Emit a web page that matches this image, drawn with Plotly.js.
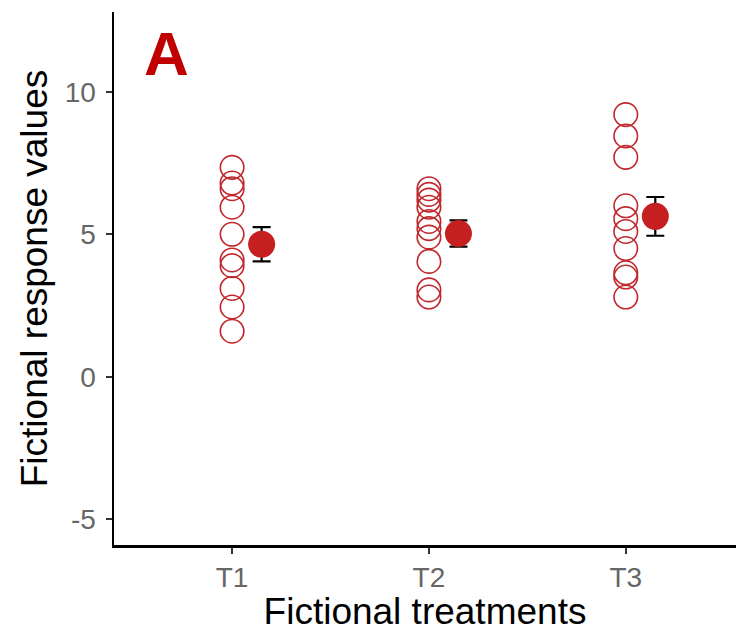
<!DOCTYPE html>
<html>
<head>
<meta charset="utf-8">
<script src="https://cdn.plot.ly/plotly-3.0.1.min.js"></script>
<style>html,body{margin:0;padding:0;background:#fff}#chart{width:736px;height:632px}</style>
</head>
<body>
<div id="chart"></div>
<script>
// Data
const categories = ["T1", "T2", "T3"];
const t1Values = [7.35, 6.8, 6.6, 5.95, 5.0, 4.1, 3.9, 3.1, 2.45, 1.6];
const t2Values = [6.6, 6.4, 6.2, 5.95, 5.45, 5.2, 4.9, 4.05, 3.05, 2.8];
const t3Values = [9.2, 8.45, 7.7, 6.0, 5.55, 5.1, 4.5, 3.65, 3.5, 2.8];
const groupMeans = [4.65, 5.03, 5.63];
const groupErrors = [0.6, 0.46, 0.68];
const yTickVals = [-5, 0, 5, 10];
const yTickText = ["-5", "0", "5", "10"];

const seriesList = [t1Values, t2Values, t3Values];
const pos = [1, 2, 3];
const meanOffset = 0.15;

const traces = [];
seriesList.forEach((vals, i) => {
  traces.push({
    type: "scatter", mode: "markers",
    x: vals.map(() => pos[i]), y: vals,
    marker: {symbol: "circle-open", size: 23.5, color: "#c0282d", line: {width: 1.6, color: "#c0282d"}},
    hoverinfo: "y", showlegend: false
  });
});
traces.push({
  type: "scatter", mode: "markers",
  x: pos.map(p => p + meanOffset), y: groupMeans,
  error_y: {type: "data", array: groupErrors, visible: true, color: "#000", thickness: 2.2, width: 9},
  marker: {symbol: "circle", size: 27, color: "#c51f1f"},
  showlegend: false
});

const layout = {
  width: 736, height: 632,
  margin: {l: 114, r: 0, t: 12, b: 87},
  paper_bgcolor: "#fff", plot_bgcolor: "#fff",
  font: {family: "Liberation Sans, Arial, sans-serif"},
  xaxis: {
    range: [0.4, 3.56], tickvals: pos, ticktext: categories,
    showgrid: false, zeroline: false,
    showline: true, linecolor: "#000", linewidth: 2.5,
    ticks: "outside", ticklen: 6, tickwidth: 2, tickcolor: "#333",
    tickfont: {size: 28, color: "#666"},
    automargin: false,
    title: {text: "Fictional treatments", font: {size: 37, color: "#000"}, standoff: 8}
  },
  yaxis: {
    range: [-5.9, 12.8], tickvals: yTickVals, ticktext: yTickText,
    showgrid: false, zeroline: false,
    showline: true, linecolor: "#000", linewidth: 2.5,
    ticks: "outside", ticklen: 6, tickwidth: 2, tickcolor: "#333",
    ticklabelstandoff: 4,
    tickfont: {size: 28, color: "#666"},
    automargin: false,
    title: {text: "Fictional response values", font: {size: 37, color: "#000"}, standoff: 6}
  },
  annotations: [{
    text: "<b>A</b>", xref: "paper", yref: "paper", x: 0.084, y: 0.923,
    xanchor: "center", yanchor: "middle", showarrow: false,
    font: {size: 62, color: "#c00000", family: "Liberation Sans, Arial, sans-serif"}
  }]
};

Plotly.newPlot("chart", traces, layout, {displayModeBar: false, staticPlot: true});
</script>
</body>
</html>
